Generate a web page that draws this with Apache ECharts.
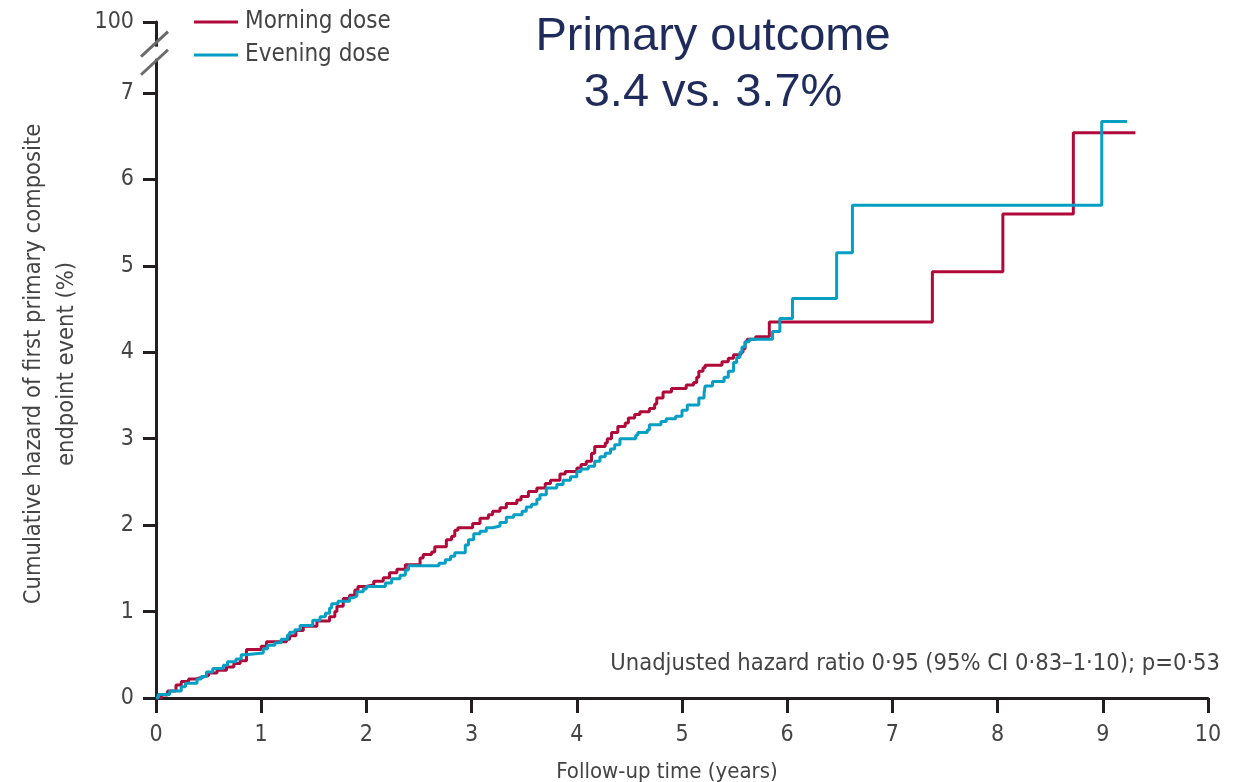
<!DOCTYPE html>
<html>
<head>
<meta charset="utf-8">
<script src="https://cdn.jsdelivr.net/npm/echarts@6.0.0/dist/echarts.min.js"></script>
<style>
  html, body { margin: 0; padding: 0; background: #fff; }
  #chart { width: 1242px; height: 782px; }
</style>
</head>
<body>
<div id="chart"></div>
<script>
// follow-up time (years) at each step, and cumulative hazard (%) after that step
const morningTime = [0, 0.05, 0.11, 0.19, 0.24, 0.31, 0.38, 0.44, 0.50, 0.58, 0.67, 0.74, 0.80, 0.86, 1.00, 1.05, 1.24, 1.27, 1.33, 1.40,
  1.53, 1.65, 1.70, 1.72, 1.78, 1.84, 1.89, 1.92, 2.00, 2.07, 2.16, 2.22, 2.29, 2.37, 2.51, 2.54, 2.62, 2.65, 2.76, 2.81,
  2.84, 2.87, 3.01, 3.08, 3.16, 3.20, 3.27, 3.33, 3.43, 3.47, 3.54, 3.62, 3.70, 3.75, 3.84, 3.89, 4.00, 4.04, 4.09, 4.14,
  4.17, 4.27, 4.29, 4.33, 4.39, 4.46, 4.49, 4.55, 4.60, 4.69, 4.74, 4.76, 4.82, 4.90, 5.04, 5.11, 5.14, 5.16, 5.20, 5.22,
  5.38, 5.44, 5.49, 5.56, 5.58, 5.60, 5.62, 5.70, 5.83, 7.38, 8.05, 8.72, 9.31]
const morningHazard = [0, 0.035, 0.08, 0.15, 0.19, 0.22, 0.24, 0.26, 0.29, 0.32, 0.36, 0.40, 0.43, 0.56, 0.60, 0.65, 0.68, 0.72, 0.78, 0.83,
  0.89, 0.94, 1.00, 1.06, 1.15, 1.19, 1.25, 1.29, 1.31, 1.35, 1.39, 1.45, 1.49, 1.54, 1.62, 1.66, 1.69, 1.75, 1.83, 1.87,
  1.94, 1.97, 2.02, 2.08, 2.12, 2.16, 2.20, 2.25, 2.29, 2.33, 2.39, 2.43, 2.48, 2.52, 2.59, 2.62, 2.66, 2.70, 2.74, 2.83,
  2.91, 2.95, 3.00, 3.07, 3.14, 3.18, 3.24, 3.28, 3.31, 3.35, 3.40, 3.47, 3.54, 3.58, 3.62, 3.65, 3.71, 3.78, 3.82, 3.85,
  3.89, 3.93, 3.97, 4.00, 4.04, 4.12, 4.15, 4.18, 4.35, 4.93, 5.60, 6.54, 6.54]

const eveningTime = [0, 0.02, 0.13, 0.24, 0.28, 0.39, 0.43, 0.48, 0.54, 0.64, 0.68, 0.76, 0.81, 0.85, 1.02, 1.06, 1.13, 1.19, 1.25, 1.27,
  1.32, 1.37, 1.49, 1.56, 1.61, 1.65, 1.67, 1.73, 1.84, 1.88, 1.91, 1.97, 2.00, 2.18, 2.24, 2.32, 2.37, 2.40, 2.69, 2.75,
  2.80, 2.84, 2.94, 2.97, 3.02, 3.08, 3.14, 3.20, 3.27, 3.33, 3.40, 3.48, 3.52, 3.57, 3.62, 3.65, 3.71, 3.81, 3.87, 3.94,
  4.00, 4.04, 4.11, 4.17, 4.22, 4.27, 4.32, 4.36, 4.41, 4.56, 4.58, 4.67, 4.69, 4.80, 4.85, 4.94, 5.00, 5.05, 5.16, 5.21,
  5.22, 5.29, 5.40, 5.44, 5.49, 5.52, 5.55, 5.57, 5.60, 5.64, 5.86, 5.93, 6.05, 6.47, 6.62, 8.99, 9.23]
const eveningHazard = [0, 0.04, 0.08, 0.13, 0.17, 0.22, 0.25, 0.30, 0.34, 0.38, 0.42, 0.45, 0.50, 0.52, 0.57, 0.61, 0.64, 0.68, 0.73, 0.76,
  0.79, 0.84, 0.90, 0.94, 0.98, 1.04, 1.09, 1.12, 1.16, 1.18, 1.23, 1.26, 1.29, 1.33, 1.38, 1.42, 1.48, 1.53, 1.56, 1.60,
  1.64, 1.68, 1.77, 1.83, 1.90, 1.93, 1.97, 1.99, 2.03, 2.09, 2.12, 2.16, 2.21, 2.24, 2.30, 2.35, 2.43, 2.47, 2.52, 2.56,
  2.62, 2.65, 2.68, 2.74, 2.79, 2.83, 2.88, 2.93, 3.00, 3.04, 3.07, 3.10, 3.16, 3.20, 3.23, 3.26, 3.33, 3.39, 3.47, 3.53,
  3.61, 3.66, 3.71, 3.78, 3.88, 3.94, 4.00, 4.06, 4.12, 4.15, 4.24, 4.39, 4.62, 5.15, 5.70, 6.67, 6.67]

// y axis is broken between 7 and 100; "100" sits just above the break
const yTickValues = [0, 1, 2, 3, 4, 5, 6, 7, 7.82]
const yTickLabels = ['0', '1', '2', '3', '4', '5', '6', '7', '100']

const seriesNames = ['Morning dose', 'Evening dose']
const seriesColors = ['#b00a3b', '#069fc4']

const narrow = "'Liberation Sans Narrow', 'DejaVu Sans Condensed', sans-serif"
const axisColor = '#231f20'
const textColor = '#444'

function pairs(t, h) {
  return t.map((v, i) => [v, h[i]])
}

const chart = echarts.init(document.getElementById('chart'))

chart.setOption({
  animation: false,
  title: {
    text: 'Primary outcome\n3.4 vs. 3.7%',
    left: 713,
    top: 9,
    padding: 0,
    textAlign: 'center',
    textStyle: {
      fontFamily: "'Liberation Sans', Arial, sans-serif",
      fontWeight: 'normal',
      fontSize: 47,
      lineHeight: 56,
      color: '#1f2b5b'
    }
  },
  legend: {
    orient: 'vertical',
    left: 194,
    top: 10,
    padding: 0,
    itemWidth: 44,
    itemHeight: 3,
    itemGap: 9,
    icon: 'rect',
    textStyle: { fontFamily: narrow, fontSize: 24, lineHeight: 24, color: textColor, padding: [0, 0, 0, 2] },
    data: seriesNames
  },
  grid: {
    left: 156,
    right: 34,
    top: 22,
    bottom: 84,
    outerBoundsMode: 'none'
  },
  xAxis: {
    type: 'value',
    min: 0,
    max: 10,
    interval: 1,
    name: 'Follow-up time (years)',
    nameLocation: 'middle',
    nameGap: 63,
    nameTextStyle: { fontFamily: narrow, fontSize: 22, color: textColor, padding: [0, 30, 0, 0] },
    splitLine: { show: false },
    axisLine: { lineStyle: { color: axisColor, width: 3 } },
    axisTick: { length: 15, lineStyle: { color: axisColor, width: 3 } },
    axisLabel: { fontFamily: narrow, fontSize: 23, color: textColor, margin: 26 }
  },
  yAxis: {
    type: 'value',
    min: 0,
    max: 7.82,
    name: 'Cumulative hazard of first primary composite\nendpoint event (%)',
    nameLocation: 'middle',
    nameGap: 72,
    nameTextStyle: { fontFamily: narrow, fontSize: 23.5, lineHeight: 33, color: textColor, padding: [0, 8, 0, 0] },
    splitLine: { show: false },
    axisLine: { show: true, lineStyle: { color: axisColor, width: 3 } },
    axisTick: { length: 13, customValues: yTickValues, lineStyle: { color: axisColor, width: 3 } },
    axisLabel: {
      fontFamily: narrow,
      fontSize: 23,
      color: textColor,
      margin: 22,
      customValues: yTickValues,
      formatter: v => yTickLabels[yTickValues.indexOf(v)]
    }
  },
  series: [
    {
      name: seriesNames[0],
      type: 'line',
      step: 'end',
      symbol: 'none',
      color: seriesColors[0],
      lineStyle: { width: 3, color: seriesColors[0] },
      data: pairs(morningTime, morningHazard)
    },
    {
      name: seriesNames[1],
      type: 'line',
      step: 'end',
      symbol: 'none',
      color: seriesColors[1],
      lineStyle: { width: 3, color: seriesColors[1] },
      data: pairs(eveningTime, eveningHazard)
    }
  ]
})

// axis break marks and the hazard ratio note
const lo = chart.convertToPixel({ gridIndex: 0 }, [0, 7.36])
const hi = chart.convertToPixel({ gridIndex: 0 }, [0, 7.57])
const slash = (p) => ({
  type: 'line',
  shape: { x1: p[0] - 15, y1: p[1] + 13, x2: p[0] + 12, y2: p[1] - 12 },
  style: { stroke: '#6b6b6b', lineWidth: 3 },
  z: 100
})
chart.setOption({
  graphic: [
    {
      type: 'rect',
      shape: { x: lo[0] - 4, y: hi[1] + 3, width: 8, height: lo[1] - hi[1] - 6 },
      style: { fill: '#fff' },
      z: 99
    },
    slash(hi),
    slash(lo),
    {
      type: 'text',
      right: 22,
      top: 652,
      style: {
        text: 'Unadjusted hazard ratio 0·95 (95% CI 0·83–1·10); p=0·53',
        font: "23.5px " + narrow,
        fill: textColor
      }
    }
  ]
})
</script>
</body>
</html>
